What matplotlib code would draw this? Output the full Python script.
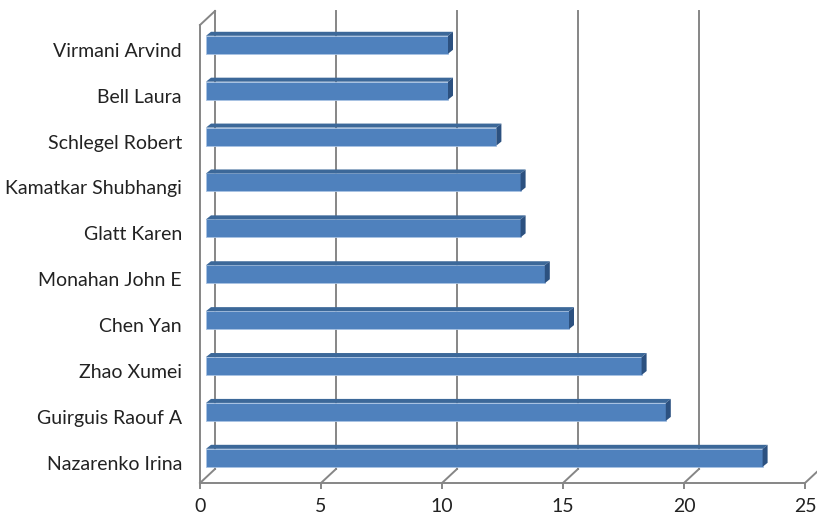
import matplotlib.pyplot as plt
from matplotlib.patches import Polygon

# categories listed bottom to top, as Excel stacks them
names = ['Nazarenko Irina', 'Guirguis Raouf A', 'Zhao Xumei', 'Chen Yan',
         'Monahan John E', 'Glatt Karen', 'Kamatkar Shubhangi',
         'Schlegel Robert', 'Bell Laura', 'Virmani Arvind']
counts = [23, 19, 18, 15, 14, 13, 13, 12, 10, 10]
xticks = [0, 5, 10, 15, 20, 25]

plt.rcParams['font.family'] = ['Lato', 'DejaVu Sans']

fig = plt.figure(figsize=(8.17, 5.2), dpi=100)
ax = fig.add_axes([200 / 817, 1 - 483 / 520, 605 / 817, 458 / 520])

y0, y1 = -0.44, 9.54
ax.set_xlim(0, 25)
ax.set_ylim(y0, y1)

grid_col = '#868686'
# depth of the wall/floor and of the bars, in data units
gx, gy = 15 / 24.2, 14 / 45.9
bx, by = 6 / 24.2, 5 / 45.9
dx, dy = 5 / 24.2, 4 / 45.9
h = 18 / 45.9

# back wall gridlines and floor diagonals
for t in xticks:
    ax.plot([t + gx, t + gx], [y0 + gy, y1 + gy], color=grid_col, lw=1.4,
            clip_on=False, zorder=1)
    ax.plot([t, t + gx], [y0, y0 + gy], color=grid_col, lw=1.4,
            clip_on=False, zorder=1)
# top edge of the side wall
ax.plot([0, gx], [y1, y1 + gy], color=grid_col, lw=1.4, clip_on=False, zorder=1)

# bars: front face, top face, side face
for i, v in enumerate(counts):
    bot = i + by - h / 2
    top = i + by + h / 2
    ax.barh(i + by, v, height=h, left=bx, color='#4f81bd',
            edgecolor='#a9c3e3', lw=0.6, zorder=3)
    ax.add_patch(Polygon([(bx, top), (bx + v, top), (bx + v + dx, top + dy),
                          (bx + dx, top + dy)], closed=True,
                         facecolor='#3c6899', edgecolor='none', zorder=3))
    ax.add_patch(Polygon([(bx + v, bot), (bx + v + dx, bot + dy),
                          (bx + v + dx, top + dy), (bx + v, top)], closed=True,
                         facecolor='#2c5180', edgecolor='none', zorder=3))

for side in ['top', 'right']:
    ax.spines[side].set_visible(False)
for side in ['left', 'bottom']:
    ax.spines[side].set_color(grid_col)
    ax.spines[side].set_linewidth(1.4)

ax.set_xticks(xticks)
ax.set_xticklabels([str(t) for t in xticks])
ax.set_yticks(range(len(names)))
ax.set_yticklabels(names)
ax.tick_params(axis='x', length=4, width=1.4, color=grid_col, pad=7,
               labelsize=14, labelcolor='#222222')
ax.tick_params(axis='y', length=0, pad=13, labelsize=14, labelcolor='#222222')

fig.savefig('out.png', dpi=100)
